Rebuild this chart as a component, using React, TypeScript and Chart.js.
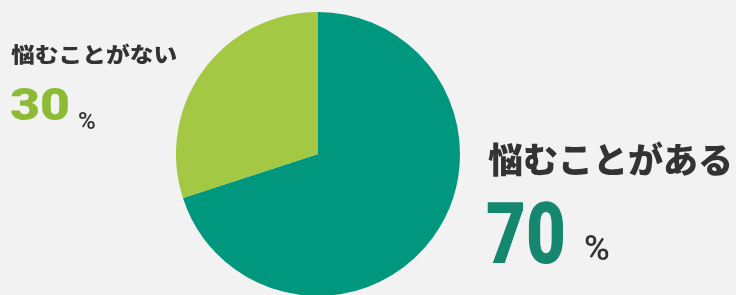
import React, { useEffect, useRef } from "react";
import { Chart, registerables } from "chart.js";

Chart.register(...registerables);

const categories = ["悩むことがある", "悩むことがない"];
const values = [70, 30];
const sliceColors = ["#00977f", "#a3c944"];
const numberColors = ["#16876f", "#8dbb34"];
const unit = "%";

const CJK = '"Noto Sans CJK JP", "Noto Sans", sans-serif';
const NUM = 'Roboto, "DejaVu Sans", sans-serif';

export default function App() {
  const ref = useRef<HTMLCanvasElement | null>(null);

  useEffect(() => {
    document.body.style.margin = "0";
    document.body.style.background = "#f2f2f2";
    const chart = new Chart(ref.current!, {
      type: "pie",
      data: {
        labels: categories,
        datasets: [
          {
            data: values,
            backgroundColor: sliceColors,
            borderWidth: 0,
          },
        ],
      },
      options: {
        animation: false,
        responsive: false,
        maintainAspectRatio: false,
        layout: { padding: { top: 12, bottom: 4, left: 0, right: 100 } },
        plugins: {
          legend: { display: false },
          tooltip: { enabled: false },
        },
      },
    });
    return () => chart.destroy();
  }, []);

  const abs = (s: React.CSSProperties): React.CSSProperties => ({
    position: "absolute",
    whiteSpace: "nowrap",
    margin: 0,
    ...s,
  });

  return (
    <div
      style={{
        position: "fixed",
        left: 0,
        top: 0,
        width: 736,
        height: 295,
        overflow: "hidden",
        background: "#f2f2f2",
      }}
    >
      <canvas
        ref={ref}
        width={736}
        height={300}
        style={{ position: "absolute", left: 0, top: 0, width: 736, height: 300 }}
      />
      {/* small label (30%) */}
      <div
        style={abs({
          left: 11,
          top: 43,
          fontFamily: CJK,
          fontWeight: 900,
          fontSize: 21,
          lineHeight: "21px",
          color: "#333333",
          transform: "scaleX(1.13)",
          transformOrigin: "left top",
        })}
      >
        {categories[1]}
      </div>
      <div
        style={abs({
          left: 10,
          top: 82,
          fontFamily: NUM,
          fontWeight: 900,
          fontSize: 45,
          lineHeight: "45px",
          color: numberColors[1],
          transform: "scaleX(1.15)",
          transformOrigin: "left top",
        })}
      >
        {values[1]}
      </div>
      <div
        style={abs({
          left: 78,
          top: 109,
          fontFamily: NUM,
          fontWeight: 500,
          fontSize: 24,
          lineHeight: "24px",
          color: "#333333",
        })}
      >
        {unit}
      </div>
      {/* large label (70%) */}
      <div
        style={abs({
          left: 488,
          top: 140,
          fontFamily: CJK,
          fontWeight: 900,
          fontSize: 35,
          lineHeight: "35px",
          color: "#333333",
        })}
      >
        {categories[0]}
      </div>
      <div
        style={abs({
          left: 486,
          top: 191,
          fontFamily: NUM,
          fontWeight: 900,
          fontSize: 86,
          lineHeight: "86px",
          color: numberColors[0],
          transform: "scaleX(0.8)",
          transformOrigin: "left top",
        })}
      >
        {values[0]}
      </div>
      <div
        style={abs({
          left: 584,
          top: 231,
          fontFamily: NUM,
          fontWeight: 500,
          fontSize: 35,
          lineHeight: "35px",
          color: "#333333",
        })}
      >
        {unit}
      </div>
    </div>
  );
}
